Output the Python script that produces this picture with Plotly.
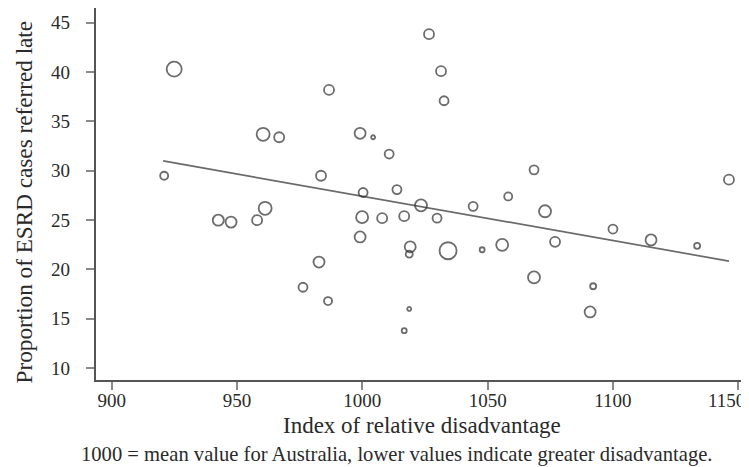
import plotly.graph_objects as go

# ---- data ----
index_values = [920.9, 924.9, 942.5, 947.6, 958.0, 961.2, 960.4, 966.8, 976.3, 982.7,
                983.5, 986.3, 986.7, 999.1, 1004.3, 999.9, 999.1, 1000.3, 1007.9, 1010.7,
                1013.8, 1016.7, 1016.7, 1018.7, 1019.1, 1018.7, 1023.4, 1026.6, 1029.8, 1031.4,
                1032.6, 1034.2, 1044.2, 1047.8, 1055.8, 1058.2, 1068.5, 1068.5, 1072.9, 1076.9,
                1090.9, 1092.1, 1100.0, 1115.2, 1133.6, 1146.3]
late_referral_pct = [29.5, 40.3, 25.0, 24.8, 25.0, 26.2, 33.7, 33.4, 18.2, 20.75,
                     29.5, 16.8, 38.2, 33.8, 33.4, 25.3, 23.3, 27.8, 25.2, 31.7,
                     28.1, 25.4, 13.8, 16.0, 22.3, 21.55, 26.5, 43.85, 25.2, 40.1,
                     37.1, 21.9, 26.4, 22.0, 22.5, 27.4, 30.1, 19.2, 25.9, 22.8,
                     15.7, 18.3, 24.1, 23.0, 22.4, 29.1]
marker_sizes = [8, 15, 11, 11, 10, 13, 13, 10, 9, 11,
                10, 8, 10, 11, 4, 12, 11, 9, 10, 9,
                9, 10, 5, 4, 11, 7, 12, 10, 9, 10,
                9, 17, 9, 5, 12, 8, 9, 12, 12, 10,
                11, 6, 9, 11, 6, 10]
trend_index = [920.5, 1146.3]
trend_pct = [31.0, 20.85]
x_tick_values = [900, 950, 1000, 1050, 1100, 1150]
x_tick_labels = ["900", "950", "1000", "1050", "1100", ""]
last_x_tick_value = 1150
last_x_tick_label = "1150"
y_tick_values = [10, 15, 20, 25, 30, 35, 40, 45]
y_tick_labels = ["10", "15", "20", "25", "30", "35", "40", "45"]

FONT = "Liberation Serif"
TEXT = "#2a2a2a"

fig = go.Figure()
fig.add_trace(go.Scatter(
    x=trend_index, y=trend_pct, mode="lines",
    line=dict(color="#6a6a6a", width=1.7), hoverinfo="skip"))
fig.add_trace(go.Scatter(
    x=index_values, y=late_referral_pct, mode="markers",
    marker=dict(symbol="circle-open", size=marker_sizes, color="#2e2e2e",
                line=dict(width=1.8))))

axis_common = dict(
    showline=True, linecolor="#555555", linewidth=2.4,
    ticks="outside", ticklen=8, tickwidth=2, tickcolor="#8a8a8a",
    showgrid=False, zeroline=False, automargin=False,
    tickfont=dict(family=FONT, size=19, color=TEXT),
)

# The page body adds an 8px offset, so the figure is 8px smaller each way.
fig.update_layout(
    width=741, height=459,
    margin=dict(l=88, r=0, t=0, b=87),
    paper_bgcolor="white", plot_bgcolor="white",
    showlegend=False,
    xaxis=dict(range=[893.7, 1154.3], tickvals=x_tick_values, ticktext=x_tick_labels,
               ticklabelstandoff=-6, **axis_common),
    yaxis=dict(range=[8.8, 46.5], tickvals=y_tick_values, ticktext=y_tick_labels,
               ticklabelstandoff=12, **axis_common),
    annotations=[
        # last x tick label, right-aligned so it stays inside the page (as in the original)
        dict(text=last_x_tick_label, xref="x", yref="paper", x=last_x_tick_value,
             y=(380 - 400.5) / 372, xanchor="right", yanchor="middle", xshift=9,
             showarrow=False, font=dict(family=FONT, size=19, color=TEXT)),
        dict(text="Index of relative disadvantage", xref="paper", yref="paper",
             x=0.4987, y=-0.121, xanchor="center", yanchor="middle", showarrow=False,
             font=dict(family=FONT, size=23, color=TEXT)),
        dict(text="1000 = mean value for Australia, lower values indicate greater disadvantage.",
             xref="paper", yref="paper", x=0.46, y=-0.2016, xanchor="center", yanchor="middle",
             showarrow=False, font=dict(family=FONT, size=20.6, color=TEXT)),
        dict(text="Proportion of ESRD cases referred late", xref="paper", yref="paper",
             x=-0.1103, y=0.48, xanchor="center", yanchor="middle", textangle=-90,
             showarrow=False, font=dict(family=FONT, size=23.2, color=TEXT)),
    ],
)

fig.write_html("out.html")
